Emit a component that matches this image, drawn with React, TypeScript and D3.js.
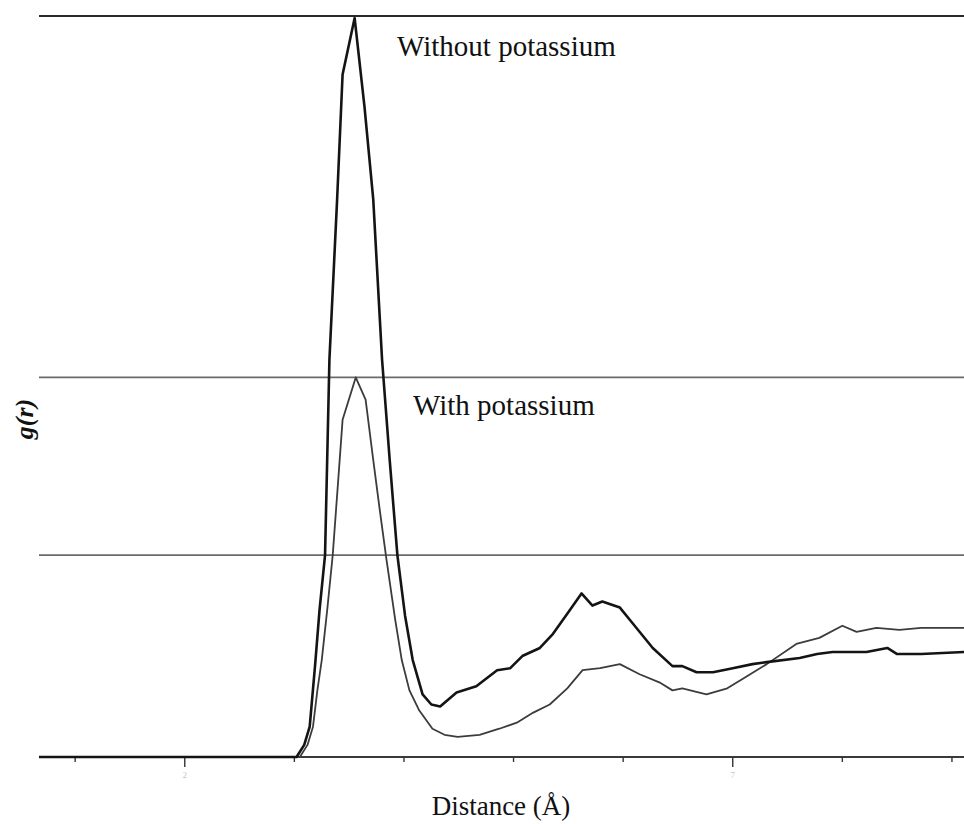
import React from "react";
import * as d3 from "d3";

// distance (Å) and g(r)
const rWithout = [0.67, 3.02, 3.09, 3.14, 3.19, 3.23, 3.28, 3.32, 3.39, 3.44, 3.55, 3.64, 3.72, 3.8, 3.87, 3.94, 4.01, 4.08, 4.17, 4.25, 4.33, 4.48, 4.66, 4.85, 4.97, 5.08, 5.24, 5.36, 5.49, 5.62, 5.72, 5.81, 5.97, 6.09, 6.27, 6.45, 6.54, 6.67, 6.82, 7.0, 7.18, 7.31, 7.61, 7.77, 7.91, 8.22, 8.41, 8.5, 8.72, 9.11];
const gWithout = [0, 0, 0.06, 0.15, 0.46, 0.73, 1.0, 1.97, 2.76, 3.38, 3.66, 3.22, 2.76, 1.97, 1.47, 1.0, 0.7, 0.48, 0.31, 0.26, 0.25, 0.32, 0.35, 0.43, 0.44, 0.5, 0.54, 0.61, 0.71, 0.81, 0.75, 0.77, 0.74, 0.66, 0.54, 0.45, 0.45, 0.42, 0.42, 0.44, 0.46, 0.47, 0.49, 0.51, 0.52, 0.52, 0.54, 0.51, 0.51, 0.52];

const rWith = [0.67, 3.05, 3.12, 3.17, 3.21, 3.25, 3.3, 3.35, 3.4, 3.44, 3.56, 3.65, 3.72, 3.78, 3.84, 3.92, 3.98, 4.05, 4.14, 4.26, 4.37, 4.49, 4.69, 4.87, 5.03, 5.18, 5.33, 5.49, 5.63, 5.79, 5.97, 6.15, 6.33, 6.45, 6.54, 6.76, 6.95, 7.13, 7.31, 7.58, 7.79, 8.0, 8.13, 8.31, 8.52, 8.72, 9.11];
const gWith = [0, 0, 0.06, 0.15, 0.33, 0.48, 0.73, 1.0, 1.37, 1.67, 1.88, 1.77, 1.47, 1.22, 0.98, 0.68, 0.48, 0.33, 0.23, 0.14, 0.11, 0.1, 0.11, 0.14, 0.17, 0.22, 0.26, 0.34, 0.43, 0.44, 0.46, 0.41, 0.37, 0.33, 0.34, 0.31, 0.34, 0.4, 0.46, 0.56, 0.59, 0.65, 0.62, 0.64, 0.63, 0.64, 0.64];

const gridValues = [1.0, 1.88, 3.67];
const xTicks = [1, 2, 3, 4, 5, 6, 7, 8, 9];
const majorTicks = [2, 7];

const W = 964;
const H = 824;

export default function App() {
  const x = d3.scaleLinear().domain([0.67, 9.11]).range([39, 964]);
  const y = d3.scaleLinear().domain([0, 3.67]).range([757, 16]);

  const line = d3
    .line<[number, number]>()
    .x((d) => x(d[0]))
    .y((d) => y(d[1]));

  const without = rWithout.map((r, i) => [r, gWithout[i]] as [number, number]);
  const withK = rWith.map((r, i) => [r, gWith[i]] as [number, number]);

  const font = "'Liberation Serif', 'Times New Roman', serif";

  return (
    <svg
      width={W}
      height={H}
      style={{ position: "absolute", left: 0, top: 0, background: "#fff" }}
    >
      {/* horizontal reference lines */}
      {gridValues.map((v, i) => (
        <line
          key={v}
          x1={x.range()[0]}
          x2={x.range()[1]}
          y1={y(v)}
          y2={y(v)}
          stroke={i === gridValues.length - 1 ? "#2a2a2a" : "#6a6a6a"}
          strokeWidth={i === gridValues.length - 1 ? 2 : 1.6}
        />
      ))}

      {/* x axis */}
      <line x1={39} x2={964} y1={y(0)} y2={y(0)} stroke="#3a3a3a" strokeWidth={2.2} />
      {xTicks.map((t) => {
        const major = majorTicks.includes(t);
        return (
          <g key={t} transform={`translate(${x(t)},${y(0)})`}>
            <line y1={0} y2={major ? 10 : 5} stroke="#333" strokeWidth={1.4} />
            {major && (
              <text
                y={21}
                textAnchor="middle"
                fontSize={9}
                fill="#c4c4c4"
                fontFamily={font}
              >
                {t}
              </text>
            )}
          </g>
        );
      })}

      {/* curves */}
      <path d={line(withK) ?? ""} fill="none" stroke="#3c3c3c" strokeWidth={1.8} strokeLinejoin="round" />
      <path d={line(without) ?? ""} fill="none" stroke="#141414" strokeWidth={2.6} strokeLinejoin="round" />

      {/* annotations */}
      <text x={397} y={56} fontSize={29} fontFamily={font} fill="#111">
        Without potassium
      </text>
      <text x={413} y={415} fontSize={29} fontFamily={font} fill="#111">
        With potassium
      </text>

      <text
        x={501}
        y={815}
        textAnchor="middle"
        fontSize={27}
        fontFamily={font}
        fill="#111"
      >
        Distance (Å)
      </text>
      <text
        transform={`translate(33,419) rotate(-90)`}
        textAnchor="middle"
        fontSize={26}
        fontWeight="bold"
        fontStyle="italic"
        fontFamily={font}
        fill="#111"
      >
        g(r)
      </text>
    </svg>
  );
}
